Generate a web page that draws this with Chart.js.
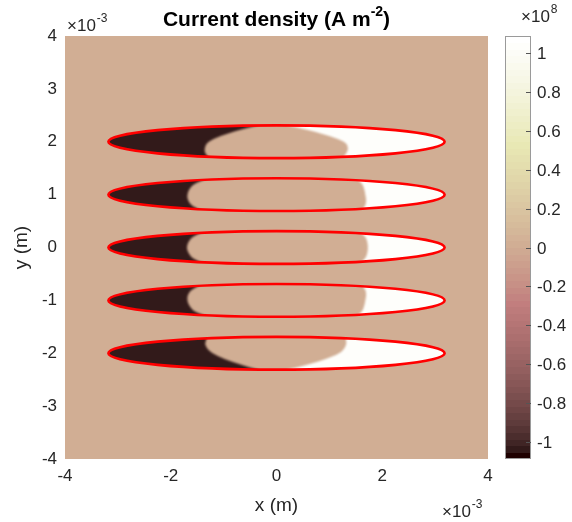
<!DOCTYPE html>
<html>
<head>
<meta charset="utf-8">
<script src="https://cdn.jsdelivr.net/npm/chart.js@4/dist/chart.umd.min.js"></script>
<style>
  html, body { margin: 0; padding: 0; background: #fff; }
</style>
</head>
<body>
<canvas id="densityChart" width="572" height="522"></canvas>
<script>
// axis ticks, in units of 1e-3 m
const xTicks = [-4, -2, 0, 2, 4];
const yTicks = [-4, -3, -2, -1, 0, 1, 2, 3, 4];

// colorbar ticks and limits, in units of 1e8 A/m^2
const cbTicks = [-1, -0.8, -0.6, -0.4, -0.2, 0, 0.2, 0.4, 0.6, 0.8, 1];
const cbMin = -1.085;
const cbMax = 1.085;

// the five conductors (1e-3 m)
const conductorY = [2, 1, 0, -1, -2];
const conductorHalfLength = 3.18;
const conductorHalfThickness = 0.31;

// current density levels (1e8 A/m^2)
const darkValue = -1.05;
const lightValue = 1.03;
const restValue = 0;

// where the return current ends / the forward current starts (x, 1e-3 m),
// read at rows from the top edge (1) to the bottom edge (-1) of each conductor
const frontRows = [1, 0.7, 0.35, 0, -0.35, -0.7, -1];
const darkFront = [
  [-0.35, -0.72, -1.08, -1.30, -1.36, -1.36, -1.26],
  [-1.30, -1.55, -1.65, -1.69, -1.68, -1.60, -1.40],
  [-1.35, -1.58, -1.67, -1.70, -1.67, -1.58, -1.35],
  [-1.40, -1.60, -1.68, -1.69, -1.65, -1.55, -1.30],
  [-1.30, -1.36, -1.33, -1.22, -1.00, -0.68, -0.35]
];
const lightFront = [
  [0.20, 0.62, 1.02, 1.30, 1.36, 1.33, 1.24],
  [1.50, 1.62, 1.66, 1.68, 1.70, 1.68, 1.60],
  [1.55, 1.68, 1.72, 1.73, 1.72, 1.68, 1.55],
  [1.60, 1.68, 1.70, 1.68, 1.66, 1.62, 1.50],
  [1.30, 1.33, 1.30, 1.20, 0.95, 0.60, 0.20]
];

const FONT = "'Liberation Sans', Arial, Helvetica, sans-serif";
const TEXT = '#262626';

// MATLAB pink(64)
function pinkColor(v) {
  const m = 64;
  let i = Math.floor((v - cbMin) / (cbMax - cbMin) * m);
  i = Math.max(0, Math.min(m - 1, i));
  const g = i / (m - 1);
  const hr = Math.min(1, (i + 1) / 24);
  const hg = Math.min(1, Math.max(0, (i + 1 - 24) / 24));
  const hb = Math.min(1, Math.max(0, (i + 1 - 48) / 16));
  const c = [hr, hg, hb].map(h => Math.round(255 * Math.sqrt((2 * g + h) / 3)));
  return `rgb(${c[0]},${c[1]},${c[2]})`;
}

function sideShape(ctx, pts, farX, ext) {
  const n = pts.length;
  ctx.beginPath();
  ctx.moveTo(farX, pts[0][1] - ext);
  ctx.lineTo(pts[0][0], pts[0][1] - ext);
  ctx.lineTo(pts[0][0], pts[0][1]);
  for (let k = 1; k < n - 1; k++) {
    const mx = (pts[k][0] + pts[k + 1][0]) / 2;
    const my = (pts[k][1] + pts[k + 1][1]) / 2;
    ctx.quadraticCurveTo(pts[k][0], pts[k][1], mx, my);
  }
  ctx.lineTo(pts[n - 1][0], pts[n - 1][1]);
  ctx.lineTo(pts[n - 1][0], pts[n - 1][1] + ext);
  ctx.lineTo(farX, pts[n - 1][1] + ext);
  ctx.closePath();
  ctx.fill();
}

const fieldPlugin = {
  id: 'field',
  beforeDatasetsDraw(chart) {
    const { ctx, chartArea: a, scales: { x, y } } = chart;
    ctx.save();
    ctx.fillStyle = pinkColor(restValue);
    ctx.fillRect(a.left, a.top, a.width, a.height);

    conductorY.forEach((yc, i) => {
      const cx = x.getPixelForValue(0);
      const cy = y.getPixelForValue(yc);
      const rx = x.getPixelForValue(conductorHalfLength) - cx;
      const ry = y.getPixelForValue(yc - conductorHalfThickness) - cy;

      ctx.save();
      ctx.beginPath();
      ctx.ellipse(cx, cy, rx, ry, 0, 0, Math.PI * 2);
      ctx.clip();
      ctx.filter = 'blur(1.3px)';
      const rowY = frontRows.map(v => y.getPixelForValue(yc + v * conductorHalfThickness));
      ctx.fillStyle = pinkColor(darkValue);
      sideShape(ctx, darkFront[i].map((xv, k) => [x.getPixelForValue(xv), rowY[k]]),
        x.getPixelForValue(-conductorHalfLength - 0.5), 6);
      ctx.fillStyle = pinkColor(lightValue);
      sideShape(ctx, lightFront[i].map((xv, k) => [x.getPixelForValue(xv), rowY[k]]),
        x.getPixelForValue(conductorHalfLength + 0.5), 6);
      ctx.restore();

      ctx.beginPath();
      ctx.ellipse(cx, cy, rx, ry, 0, 0, Math.PI * 2);
      ctx.strokeStyle = '#ff0000';
      ctx.lineWidth = 2.6;
      ctx.stroke();
    });
    ctx.restore();
  },
  afterDraw(chart) {
    const { ctx, chartArea: a, scales: { cb } } = chart;
    ctx.save();
    // colorbar strip
    const left = a.right + 17, w = 26;
    const step = (cbMax - cbMin) / 64;
    for (let k = 0; k < 64; k++) {
      const lo = cbMin + k * step, hi = lo + step;
      const y0 = cb.getPixelForValue(hi), y1 = cb.getPixelForValue(lo);
      ctx.fillStyle = pinkColor(lo + step / 2);
      ctx.fillRect(left, Math.floor(y0), w, Math.ceil(y1) - Math.floor(y0));
    }
    ctx.strokeStyle = '#9a9a9a';
    ctx.lineWidth = 1;
    ctx.strokeRect(left + 0.5, a.top + 0.5, w - 1, a.height - 1);
    ctx.font = `17px ${FONT}`;
    ctx.fillStyle = TEXT;
    ctx.textAlign = 'left';
    ctx.textBaseline = 'middle';
    cbTicks.forEach(t => {
      const ty = Math.round(cb.getPixelForValue(t)) + 0.5;
      ctx.beginPath();
      ctx.moveTo(left + w - 5, ty);
      ctx.lineTo(left + w, ty);
      ctx.strokeStyle = '#555';
      ctx.stroke();
      ctx.fillText(String(t), left + w + 6, ty + 1);
    });

    // exponent labels
    const expLabel = (x0, base, sup) => {
      ctx.textBaseline = 'alphabetic';
      ctx.textAlign = 'left';
      ctx.font = `17px ${FONT}`;
      const wd = ctx.measureText('\u00d710').width;
      ctx.fillText('\u00d710', x0, base);
      ctx.font = `12px ${FONT}`;
      ctx.fillText(sup, x0 + wd + 1, base - 9);
    };
    expLabel(a.left + 2, 31, '-3');
    expLabel(left + 16, 22, '8');
    expLabel(a.right - 46, 517, '-3');

    // title
    ctx.fillStyle = '#000';
    ctx.textAlign = 'left';
    ctx.textBaseline = 'alphabetic';
    ctx.font = `bold 21px ${FONT}`;
    const t1 = 'Current density (A m', t2 = '-2', t3 = ')';
    const w1 = ctx.measureText(t1).width, w3 = ctx.measureText(t3).width;
    ctx.font = `bold 14px ${FONT}`;
    const w2 = ctx.measureText(t2).width;
    const tx = (a.left + a.right) / 2 - (w1 + w2 + w3) / 2;
    ctx.font = `bold 21px ${FONT}`;
    ctx.fillText(t1, tx, 26);
    ctx.font = `bold 14px ${FONT}`;
    ctx.fillText(t2, tx + w1, 16);
    ctx.font = `bold 21px ${FONT}`;
    ctx.fillText(t3, tx + w1 + w2, 26);
    ctx.restore();
  }
};

const tickFont = { family: FONT, size: 17 };
const labelFont = { family: FONT, size: 19 };

new Chart(document.getElementById('densityChart'), {
  type: 'scatter',
  data: { datasets: [] },
  options: {
    responsive: false,
    animation: false,
    devicePixelRatio: 1,
    layout: { padding: { left: 0, top: 36, right: 84, bottom: 0 } },
    plugins: { legend: { display: false }, tooltip: { enabled: false } },
    scales: {
      x: {
        type: 'linear',
        min: -4,
        max: 4,
        afterBuildTicks: s => { s.ticks = xTicks.map(v => ({ value: v })); },
        afterFit: s => { s.height = 63; },
        ticks: { font: tickFont, color: TEXT, padding: 7, maxRotation: 0 },
        grid: { display: false, drawTicks: false },
        border: { display: false },
        title: { display: true, text: 'x (m)', font: labelFont, color: TEXT, padding: { top: 0, bottom: 5 } }
      },
      y: {
        type: 'linear',
        min: -4,
        max: 4,
        afterBuildTicks: s => { s.ticks = yTicks.map(v => ({ value: v })); },
        afterFit: s => { s.width = 65; },
        ticks: { font: tickFont, color: TEXT, padding: 8 },
        grid: { display: false, drawTicks: false },
        border: { display: false },
        title: { display: true, text: 'y (m)', font: labelFont, color: TEXT, padding: { top: 10, bottom: 0 } }
      },
      cb: {
        type: 'linear',
        axis: 'y',
        position: 'right',
        display: false,
        min: cbMin,
        max: cbMax
      }
    }
  },
  plugins: [fieldPlugin]
});
</script>
</body>
</html>
